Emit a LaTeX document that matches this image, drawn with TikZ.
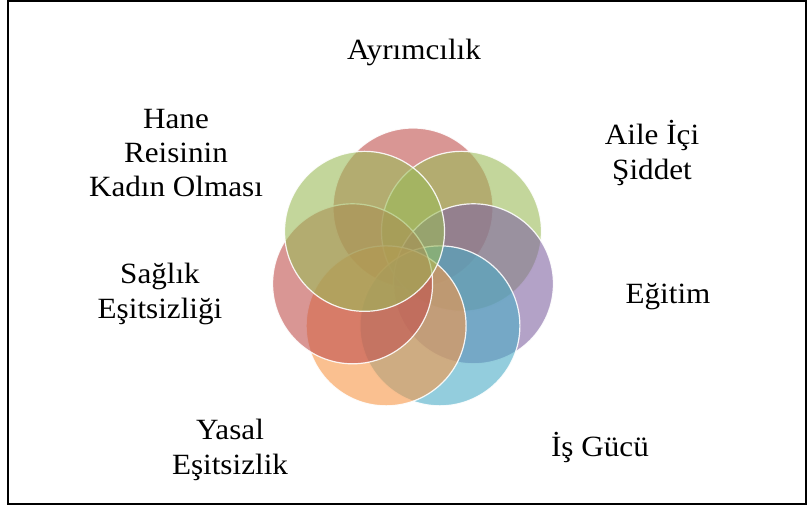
\documentclass[tikz,border=0pt]{standalone}
\usepackage{fontspec}
\setmainfont{Liberation Serif}[FakeStretch=1.06]
\definecolor{ringred}{HTML}{C0504D}
\definecolor{ringgreen}{HTML}{9BBB59}
\definecolor{ringpurple}{HTML}{8064A2}
\definecolor{ringaqua}{HTML}{4BACC6}
\definecolor{ringorange}{HTML}{F79646}

\begin{document}
\begin{tikzpicture}[x=1bp, y=-1bp,
        ring/.style = {circle, minimum size=160bp, inner sep=0pt, draw=white, line width=1.2bp, fill opacity=0.6, draw opacity=0.9},
      factor/.style = {align=center, inner sep=0pt, font=\fontsize{29.5}{34.5}\selectfont}
                        ]
\useasboundingbox (0,0) rectangle (809,506);
\draw[line width=2bp] (7.5,1.5) rectangle (806,504);
% rings round the centre
\coordinate (mid) at (413,270);
\foreach \ang/\col/\name in {90/ringred/ayrim, 38.57/ringgreen/aile, -12.86/ringpurple/egitim, -64.29/ringaqua/isgucu, -115.71/ringorange/yasal, -167.14/ringred/saglik, 141.43/ringgreen/hane}
  \node (ring-\name) [ring, fill=\col] at ([shift={(mid)}] -\ang:62) {};
% labels
\node (ayrim)  [factor] at (414,52)  {Ayrımcılık};
\node (aile)   [factor] at (652,153) {Aile İçi\\Şiddet};
\node (egitim) [factor] at (668,297) {Eğitim};
\node (isgucu) [factor] at (600,448) {İş Gücü};
\node (yasal)  [factor] at (230,450) {Yasal\\Eşitsizlik};
\node (saglik) [factor] at (160,294) {Sağlık\\Eşitsizliği};
\node (hane)   [factor] at (176,153) {Hane\\Reisinin\\Kadın Olması};
\end{tikzpicture}
\end{document}
